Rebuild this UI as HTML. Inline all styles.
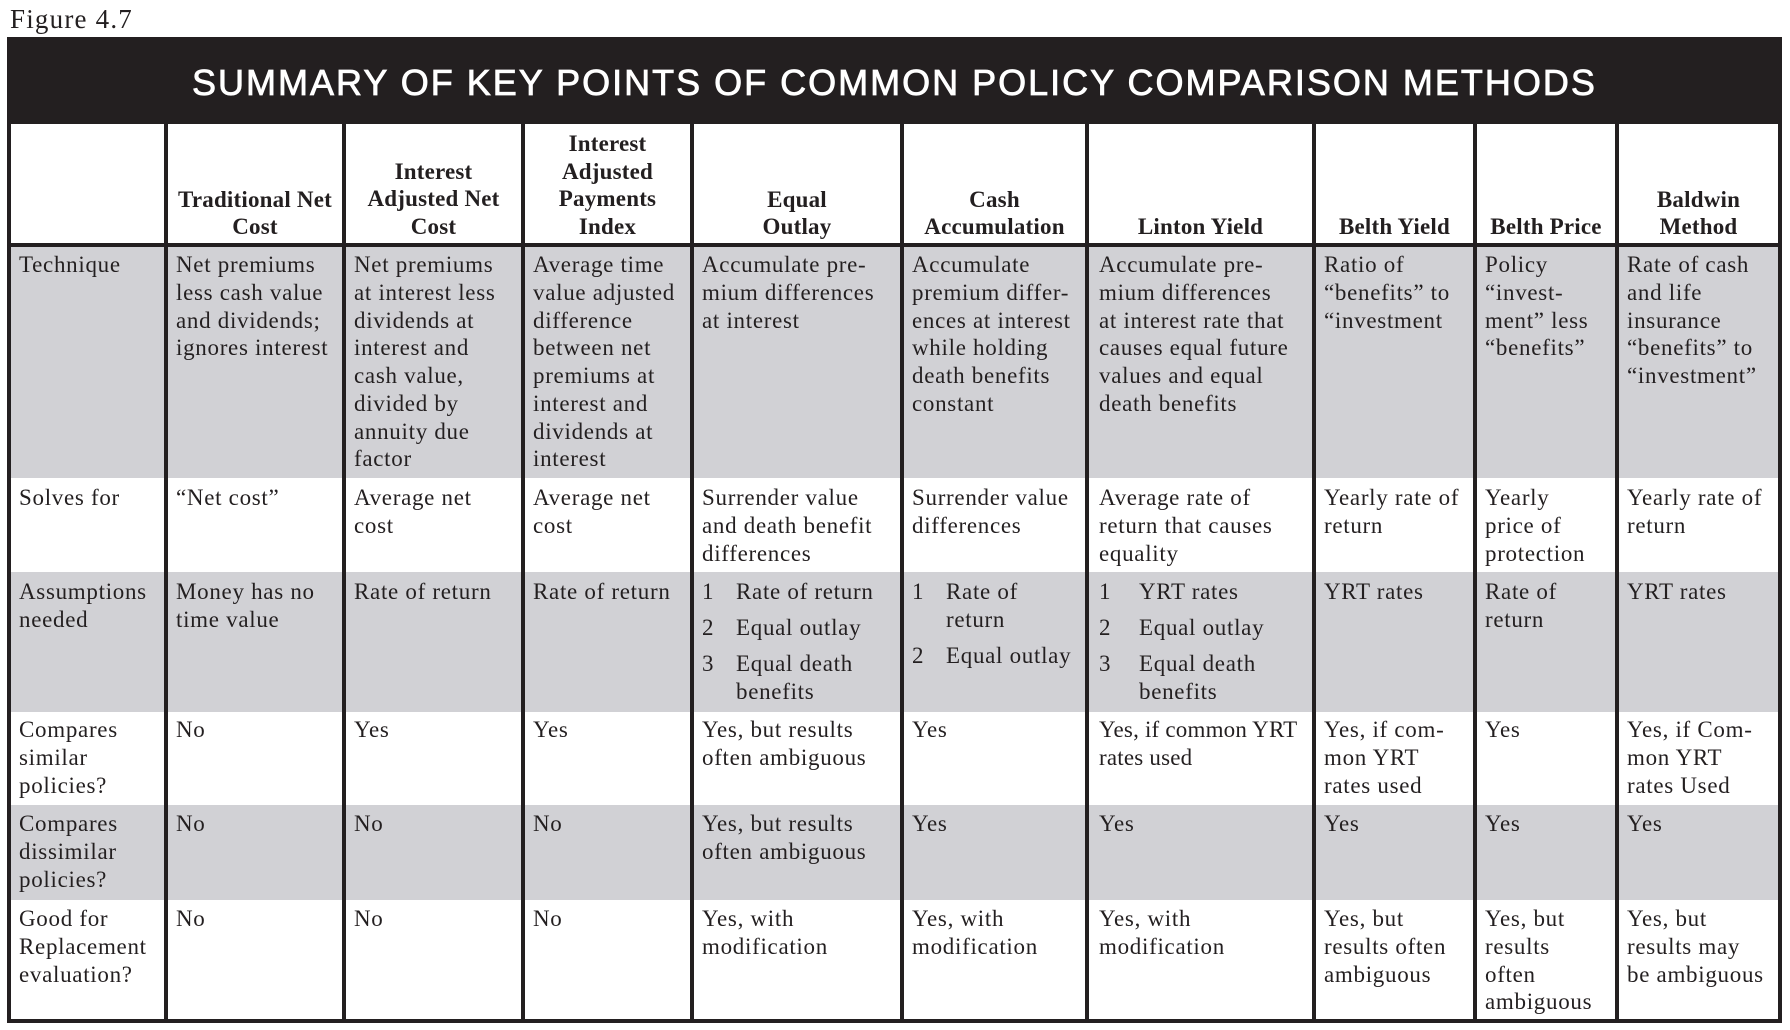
<!DOCTYPE html>
<html><head><meta charset="utf-8">
<style>
html,body{margin:0;padding:0;background:#fff;}
body{width:1790px;height:1030px;position:relative;overflow:hidden;}
.a{position:absolute;}
.bar{background:#231f20;}
.g{position:absolute;background:#d1d1d5;left:11px;width:1767px;}
.t{position:absolute;font-family:"Liberation Serif",serif;font-size:23px;line-height:27.7px;letter-spacing:0.7px;color:#231f20;white-space:nowrap;}
.h{position:absolute;font-family:"Liberation Serif",serif;font-weight:bold;font-size:23px;line-height:27.8px;letter-spacing:0.2px;color:#231f20;white-space:nowrap;text-align:center;}
.v{position:absolute;background:#231f20;top:124px;height:899px;width:4px;}
</style></head><body>

<div class="a" style="left:10px;top:4px;font-family:'Liberation Serif',serif;font-size:27px;line-height:30px;letter-spacing:1.2px;color:#231f20;white-space:nowrap;">Figure 4.7</div>

<!-- title bar -->
<div class="a bar" style="left:7px;top:37px;width:1775px;height:87px;"></div>
<div class="a" style="left:192px;top:64.5px;font-family:'Liberation Sans',sans-serif;font-size:36px;line-height:36px;letter-spacing:2px;color:#fff;white-space:nowrap;-webkit-text-stroke:0.8px #fff;">SUMMARY OF KEY POINTS OF COMMON POLICY COMPARISON METHODS</div>

<!-- gray rows -->
<div class="g" style="top:247px;height:231px;"></div>
<div class="g" style="top:572px;height:140px;"></div>
<div class="g" style="top:805px;height:95px;"></div>

<!-- borders -->
<div class="a bar" style="left:7px;top:124px;width:4px;height:899px;"></div>
<div class="a bar" style="left:1778px;top:124px;width:4px;height:899px;"></div>
<div class="a bar" style="left:7px;top:1019px;width:1775px;height:4px;"></div>
<div class="a bar" style="left:7px;top:243px;width:1775px;height:4px;"></div>
<div class="v" style="left:164px;"></div>
<div class="v" style="left:342px;"></div>
<div class="v" style="left:521px;"></div>
<div class="v" style="left:690px;"></div>
<div class="v" style="left:900px;"></div>
<div class="v" style="left:1085px;"></div>
<div class="v" style="left:1312px;"></div>
<div class="v" style="left:1473px;"></div>
<div class="v" style="left:1615px;"></div>

<!-- headers -->
<div class="h" style="left:168px;width:174px;top:185.5px;">Traditional Net<br>Cost</div>
<div class="h" style="left:346px;width:175px;top:157.7px;">Interest<br>Adjusted Net<br>Cost</div>
<div class="h" style="left:525px;width:165px;top:129.9px;">Interest<br>Adjusted<br>Payments<br>Index</div>
<div class="h" style="left:694px;width:206px;top:185.5px;">Equal<br>Outlay</div>
<div class="h" style="left:904px;width:181px;top:185.5px;">Cash<br>Accumulation</div>
<div class="h" style="left:1089px;width:223px;top:213.3px;">Linton Yield</div>
<div class="h" style="left:1316px;width:157px;top:213.3px;">Belth Yield</div>
<div class="h" style="left:1477px;width:138px;top:213.3px;">Belth Price</div>
<div class="h" style="left:1619px;width:159px;top:185.5px;">Baldwin<br>Method</div>

<!-- Technique row -->
<div class="t" style="left:19px;top:251.3px;">Technique</div>
<div class="t" style="left:176px;top:251.3px;">Net premiums<br>less cash value<br>and dividends;<br>ignores interest</div>
<div class="t" style="left:354px;top:251.3px;">Net premiums<br>at interest less<br>dividends at<br>interest and<br>cash value,<br>divided by<br>annuity due<br>factor</div>
<div class="t" style="left:533px;top:251.3px;">Average time<br>value adjusted<br>difference<br>between net<br>premiums at<br>interest and<br>dividends at<br>interest</div>
<div class="t" style="left:702px;top:251.3px;">Accumulate pre-<br>mium differences<br>at interest</div>
<div class="t" style="left:912px;top:251.3px;">Accumulate<br>premium differ-<br>ences at interest<br>while holding<br>death benefits<br>constant</div>
<div class="t" style="left:1099px;top:251.3px;">Accumulate pre-<br>mium differences<br>at interest rate that<br>causes equal future<br>values and equal<br>death benefits</div>
<div class="t" style="left:1324px;top:251.3px;">Ratio of<br>“benefits” to<br>“investment</div>
<div class="t" style="left:1485px;top:251.3px;">Policy<br>“invest-<br>ment” less<br>“benefits”</div>
<div class="t" style="left:1627px;top:251.3px;">Rate of cash<br>and life<br>insurance<br>“benefits” to<br>“investment”</div>

<!-- Solves for row -->
<div class="t" style="left:19px;top:484.3px;">Solves for</div>
<div class="t" style="left:176px;top:484.3px;">“Net cost”</div>
<div class="t" style="left:354px;top:484.3px;">Average net<br>cost</div>
<div class="t" style="left:533px;top:484.3px;">Average net<br>cost</div>
<div class="t" style="left:702px;top:484.3px;">Surrender value<br>and death benefit<br>differences</div>
<div class="t" style="left:912px;top:484.3px;">Surrender value<br>differences</div>
<div class="t" style="left:1099px;top:484.3px;">Average rate of<br>return that causes<br>equality</div>
<div class="t" style="left:1324px;top:484.3px;">Yearly rate of<br>return</div>
<div class="t" style="left:1485px;top:484.3px;">Yearly<br>price of<br>protection</div>
<div class="t" style="left:1627px;top:484.3px;">Yearly rate of<br>return</div>

<!-- Assumptions row -->
<div class="t" style="left:19px;top:578.3px;">Assumptions<br>needed</div>
<div class="t" style="left:176px;top:578.3px;">Money has no<br>time value</div>
<div class="t" style="left:354px;top:578.3px;">Rate of return</div>
<div class="t" style="left:533px;top:578.3px;">Rate of return</div>

<div class="t" style="left:702px;top:578.3px;">1</div>
<div class="t" style="left:736px;top:578.3px;">Rate of return</div>
<div class="t" style="left:702px;top:614.3px;">2</div>
<div class="t" style="left:736px;top:614.3px;">Equal outlay</div>
<div class="t" style="left:702px;top:650.3px;">3</div>
<div class="t" style="left:736px;top:650.3px;">Equal death<br>benefits</div>

<div class="t" style="left:912px;top:578.3px;">1</div>
<div class="t" style="left:946px;top:578.3px;">Rate of<br>return</div>
<div class="t" style="left:912px;top:641.8px;">2</div>
<div class="t" style="left:946px;top:641.8px;">Equal outlay</div>

<div class="t" style="left:1099px;top:578.3px;">1</div>
<div class="t" style="left:1139px;top:578.3px;">YRT rates</div>
<div class="t" style="left:1099px;top:614.3px;">2</div>
<div class="t" style="left:1139px;top:614.3px;">Equal outlay</div>
<div class="t" style="left:1099px;top:650.3px;">3</div>
<div class="t" style="left:1139px;top:650.3px;">Equal death<br>benefits</div>

<div class="t" style="left:1324px;top:578.3px;">YRT rates</div>
<div class="t" style="left:1485px;top:578.3px;">Rate of<br>return</div>
<div class="t" style="left:1627px;top:578.3px;">YRT rates</div>

<!-- Compares similar row -->
<div class="t" style="left:19px;top:716.3px;">Compares<br>similar<br>policies?</div>
<div class="t" style="left:176px;top:716.3px;">No</div>
<div class="t" style="left:354px;top:716.3px;">Yes</div>
<div class="t" style="left:533px;top:716.3px;">Yes</div>
<div class="t" style="left:702px;top:716.3px;">Yes, but results<br>often ambiguous</div>
<div class="t" style="left:912px;top:716.3px;">Yes</div>
<div class="t" style="left:1099px;top:716.3px;letter-spacing:0.2px;">Yes, if common YRT<br>rates used</div>
<div class="t" style="left:1324px;top:716.3px;">Yes, if com-<br>mon YRT<br>rates used</div>
<div class="t" style="left:1485px;top:716.3px;">Yes</div>
<div class="t" style="left:1627px;top:716.3px;">Yes, if Com-<br>mon YRT<br>rates Used</div>

<!-- Compares dissimilar row -->
<div class="t" style="left:19px;top:810.3px;">Compares<br>dissimilar<br>policies?</div>
<div class="t" style="left:176px;top:810.3px;">No</div>
<div class="t" style="left:354px;top:810.3px;">No</div>
<div class="t" style="left:533px;top:810.3px;">No</div>
<div class="t" style="left:702px;top:810.3px;">Yes, but results<br>often ambiguous</div>
<div class="t" style="left:912px;top:810.3px;">Yes</div>
<div class="t" style="left:1099px;top:810.3px;">Yes</div>
<div class="t" style="left:1324px;top:810.3px;">Yes</div>
<div class="t" style="left:1485px;top:810.3px;">Yes</div>
<div class="t" style="left:1627px;top:810.3px;">Yes</div>

<!-- Good for Replacement row -->
<div class="t" style="left:19px;top:905.3px;">Good for<br>Replacement<br>evaluation?</div>
<div class="t" style="left:176px;top:905.3px;">No</div>
<div class="t" style="left:354px;top:905.3px;">No</div>
<div class="t" style="left:533px;top:905.3px;">No</div>
<div class="t" style="left:702px;top:905.3px;">Yes, with<br>modification</div>
<div class="t" style="left:912px;top:905.3px;">Yes, with<br>modification</div>
<div class="t" style="left:1099px;top:905.3px;">Yes, with<br>modification</div>
<div class="t" style="left:1324px;top:905.3px;">Yes, but<br>results often<br>ambiguous</div>
<div class="t" style="left:1485px;top:905.3px;">Yes, but<br>results<br>often<br>ambiguous</div>
<div class="t" style="left:1627px;top:905.3px;">Yes, but<br>results may<br>be ambiguous</div>

</body></html>
